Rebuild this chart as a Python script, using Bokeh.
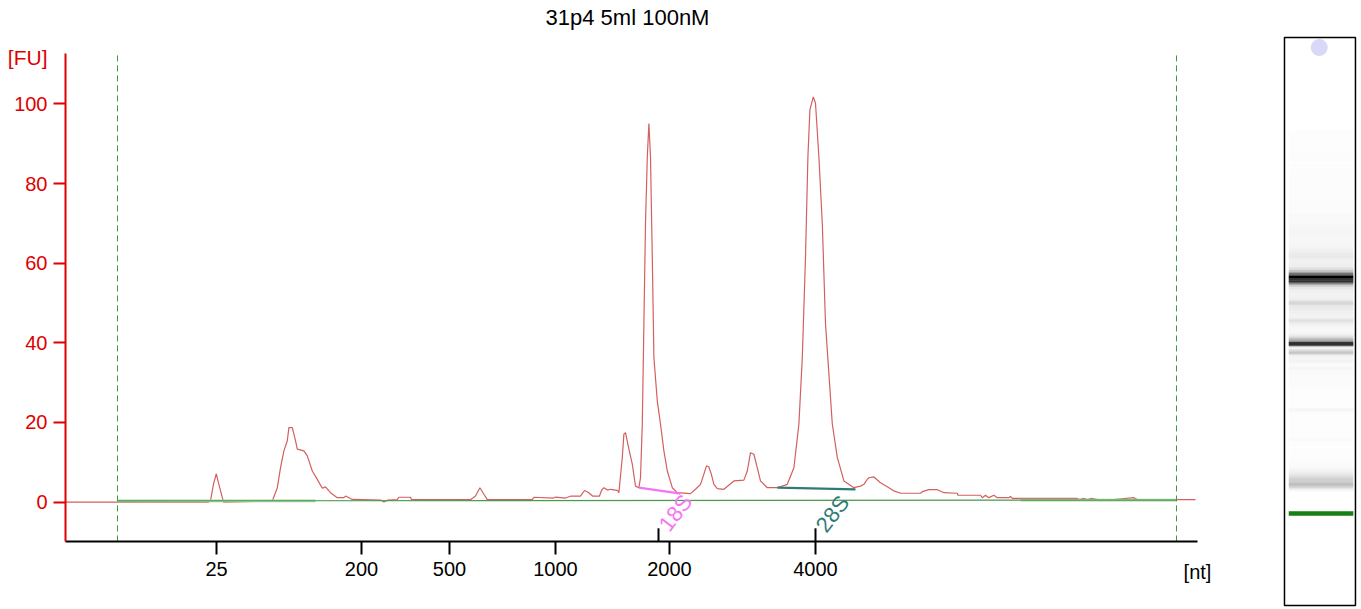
from bokeh.core.properties import value
from bokeh.embed import file_html
from bokeh.layouts import row
from bokeh.models import ColumnDataSource, FixedTicker, Label, Range1d
from bokeh.plotting import figure
from bokeh.resources import INLINE

TITLE = "31p4 5ml 100nM"
FONT = "Liberation Sans"
AXIS_RED = "#e00000"

# migration time [s] and fluorescence [FU]
time_s = [17.0, 24.15, 24.25, 24.4, 24.54, 24.65, 24.9, 27.34, 27.59, 27.75,
          27.92, 28.09, 28.17, 28.34, 28.5, 28.59, 28.92, 29.09, 29.34, 29.59,
          29.84, 30.0, 30.25, 30.59, 30.92, 31.0, 31.34, 32.75, 32.92, 33.12,
          33.59, 33.67, 34.25, 34.3, 37.25, 37.5, 37.72, 37.92, 38.09, 40.34,
          40.42, 41.4, 41.5, 42.0, 42.28, 42.75, 42.95, 43.15, 43.35, 43.7,
          43.8, 43.92, 44.1, 44.25, 44.59, 44.67, 44.84, 44.92, 45.0, 45.17,
          45.34, 45.5, 45.67, 45.75, 45.84, 45.92, 46.0, 46.09, 46.17, 46.25,
          46.34, 46.42, 46.59, 46.75, 46.92, 47.09, 47.34, 47.59, 48.25, 48.5,
          48.75, 48.92, 49.05, 49.17, 49.29, 49.42, 49.59, 49.92, 50.42, 50.92,
          51.09, 51.25, 51.42, 51.59, 51.75, 52.09, 52.59, 53.09, 53.42, 53.67,
          53.84, 54.0, 54.12, 54.22, 54.39, 54.5, 54.67, 54.84, 55.0, 55.17,
          55.34, 55.59, 55.92, 56.42, 56.75, 56.92, 57.09, 57.17, 57.42, 57.75,
          58.17, 58.42, 58.75, 59.75, 59.84, 60.17, 60.59, 60.92, 61.59, 61.62,
          62.75, 62.84, 63.0, 63.17, 63.42, 63.59, 64.17, 64.25, 64.34, 67.59,
          67.7, 67.9, 68.1, 68.3, 68.6, 69.2, 69.3, 69.4, 70.42, 70.59,
          73.5]
fu = [0, 0, 0.3, 4.5, 7.1, 4.8, 0, 0.25, 3.6, 8.6,
      12.85, 15.4, 18.7, 18.7, 15.4, 13.3, 12.85, 11.6, 7.8, 5.7,
      3.45, 3.8, 2.35, 1.1, 1.1, 1.5, 0.65, 0.5, 0.0, 0.5,
      0.6, 1.2, 1.2, 0.6, 0.6, 1.5, 3.6, 1.95, 0.6, 0.6,
      1.2, 1.0, 1.25, 1.0, 1.5, 1.5, 2.9, 2.4, 1.5, 1.5,
      2.9, 3.6, 3.0, 3.2, 2.95, 2.35, 11.2, 17.05, 17.45, 13.3,
      9.5, 4.0, 3.6, 6.1, 19.6, 44.8, 69.9, 86.7, 95.1, 86.7,
      61.5, 36.3, 25.4, 19.6, 12.85, 7.8, 3.6, 2.35, 2.1, 3.2,
      4.45, 7.0, 9.1, 8.8, 7.0, 4.45, 3.35, 3.2, 5.3, 5.5,
      7.8, 12.4, 12.0, 8.6, 5.3, 3.6, 3.6, 4.45, 8.6, 19.6,
      36.3, 61.5, 86.7, 98.5, 101.8, 100.2, 86.7, 69.9, 44.8, 32.2,
      19.6, 11.2, 5.3, 3.6, 4.0, 4.45, 5.7, 6.1, 6.3, 4.85,
      3.6, 2.8, 2.2, 2.2, 2.6, 3.1, 3.1, 2.35, 2.2, 1.7,
      1.7, 1.1, 1.7, 1.1, 1.7, 1.1, 1.1, 1.4, 0.9, 0.9,
      0.6, 0.9, 0.6, 0.9, 0.6, 0.6, 0.3, 0.6, 1.1, 0.6,
      0.6]

# ladder sizes placed on the time axis
ladder_time = [24.55, 31.8, 36.2, 41.5, 47.2, 54.5]
ladder_nt = ["25", "200", "500", "1000", "2000", "4000"]
inner_tick_time = [46.65, 54.5]

fu_ticks = [0, 20, 40, 60, 80, 100]

# plotted window and analysis window (dashed lines), baseline
time_lim = (17.0, 73.6)
fu_lim = (-9.9, 112.7)
window_time = [19.6, 72.55]
baseline_time = [19.6, 72.55]
baseline_fu = [0.3, 0.5]
flat_start = [19.6, 64.75]
flat_end = [29.5, 72.55]
flat_fu = [0.3, 0.48]

# rRNA peak integration lines
rrna_names = ["18S", "28S"]
rrna_start_time = [45.67, 52.59]
rrna_end_time = [47.75, 56.5]
rrna_start_fu = [3.6, 3.6]
rrna_end_fu = [2.1, 3.2]
rrna_label_time = [47.5, 55.35]
rrna_label_fu = [-2.7, -3.0]
rrna_colors = ["#f574f5", "#2f7c77"]

# gel lane
lane_time = (12.82, 85.18)
lower_marker_time = 24.54
well_time = 83.9


p = figure(width=1248, height=609, output_backend="svg", toolbar_location=None,
           x_range=Range1d(13.75, 76.15), y_range=Range1d(-27.0, 126.0),
           min_border=0)
p.outline_line_color = None
p.grid.visible = False

p.line(time_s, fu, color="#d35f5f", line_width=1.2)
p.segment(flat_start, flat_fu, flat_end, flat_fu, color="#a6d4a6",
          line_width=2.6)
p.line(baseline_time, baseline_fu, color="#4a9a4a", line_width=1.2)

p.segment(window_time, [fu_lim[0]] * 2, window_time, [fu_lim[1]] * 2,
          line_color="#3c9a3c", line_width=1, line_dash="6 4")

p.segment(rrna_start_time, rrna_start_fu, rrna_end_time, rrna_end_fu,
          color=rrna_colors, line_width=2.2)
p.text(rrna_label_time, rrna_label_fu, text=rrna_names, color=rrna_colors,
       angle=0.92, text_align="center", text_baseline="middle",
       text_font=value(FONT), text_font_size="22px")

p.segment(inner_tick_time, [fu_lim[0]] * 2, inner_tick_time,
          [fu_lim[0] + 3.3] * 2, color="black", line_width=2)

p.xaxis.fixed_location = fu_lim[0]
p.xaxis.bounds = time_lim
p.xaxis.ticker = FixedTicker(ticks=ladder_time)
p.xaxis.major_label_overrides = dict(zip(ladder_time, ladder_nt))
p.xaxis.axis_line_width = 2
p.xaxis.major_tick_line_width = 2
p.xaxis.major_tick_in = 0
p.xaxis.major_tick_out = 13
p.xaxis.minor_tick_line_color = None
p.xaxis.major_label_standoff = 8
p.xaxis.major_label_text_font = FONT
p.xaxis.major_label_text_font_size = "20px"
p.xaxis.major_label_text_color = "black"

p.yaxis.fixed_location = time_lim[0]
p.yaxis.bounds = fu_lim
p.yaxis.ticker = FixedTicker(ticks=fu_ticks)
p.yaxis.axis_line_color = AXIS_RED
p.yaxis.axis_line_width = 2
p.yaxis.major_tick_line_color = AXIS_RED
p.yaxis.major_tick_line_width = 2
p.yaxis.major_tick_in = 0
p.yaxis.major_tick_out = 12
p.yaxis.minor_tick_line_color = None
p.yaxis.major_label_standoff = 6
p.yaxis.major_label_text_font = FONT
p.yaxis.major_label_text_font_size = "20px"
p.yaxis.major_label_text_color = AXIS_RED

p.add_layout(Label(x=45.1, y=121.7, text=TITLE, text_align="center",
                   text_baseline="middle", text_font=FONT,
                   text_font_size="22px", text_color="black"))
p.add_layout(Label(x=16.1, y=111.7, text="[FU]", text_align="right",
                   text_baseline="middle", text_font=FONT,
                   text_font_size="21px", text_color=AXIS_RED))
p.add_layout(Label(x=time_lim[1], y=-17.5, text="[nt]", text_align="center",
                   text_baseline="middle", text_font=FONT,
                   text_font_size="20px", text_color="black"))

# virtual gel lane built from the same trace
gel = ColumnDataSource(dict(
    bottom=time_s[:-1],
    top=time_s[1:],
    alpha=[min(1.0, (a + b) / 2 / 70) for a, b in zip(fu[:-1], fu[1:])],
))
g = figure(width=113, height=609, output_backend="svg", toolbar_location=None,
           x_range=Range1d(-0.507, 1.085), y_range=Range1d(12.31, 89.89),
           x_axis_location=None, y_axis_location=None, min_border=0)
g.grid.visible = False
g.outline_line_color = None
g.quad(left=0.06, right=0.97, bottom="bottom", top="top", source=gel,
       fill_color="black", fill_alpha="alpha", line_color=None)
g.quad(left=0.06, right=0.97, bottom=lower_marker_time - 0.3,
       top=lower_marker_time + 0.3, fill_color="#168016", line_color=None)
g.scatter([0.49], [well_time], size=16, marker="circle", color="#d8d8f8")
g.quad(left=0, right=1, bottom=lane_time[0], top=lane_time[1],
       fill_color=None, line_color="black", line_width=1.5)

layout = row(p, g)
open("out.html", "w").write(file_html(layout, INLINE))
